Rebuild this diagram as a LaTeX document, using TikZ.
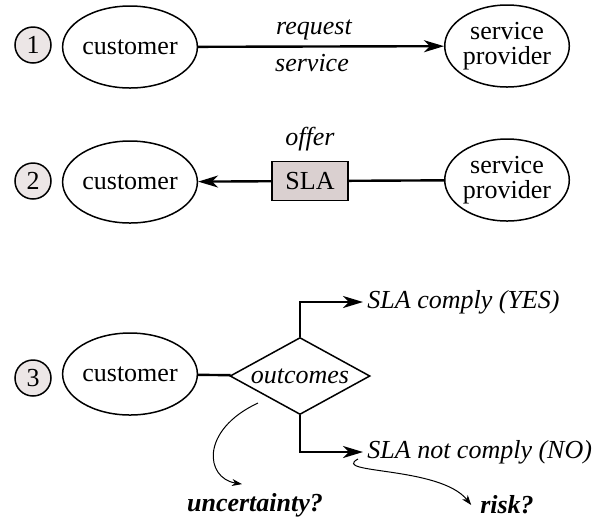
\documentclass[tikz,border=0pt]{standalone}
\usepackage{fontspec}
\setmainfont{Liberation Serif}
\usepackage{tikz}
\usetikzlibrary{shapes.geometric,arrows.meta,positioning}
\definecolor{stepfill}{RGB}{236,230,230}
\definecolor{slafill}{RGB}{218,208,208}

\begin{document}
\fontsize{13}{15}\selectfont
\begin{tikzpicture}[x=0.5pt,y=0.5pt,yscale=-1,xscale=1,
  party/.style={ellipse,draw,line width=0.75pt,minimum width=62pt,minimum height=41pt,inner sep=0pt,align=center},
  twoline/.style={font=\fontsize{13}{12.5}\selectfont},
  stepno/.style={circle,draw,line width=0.75pt,fill=stepfill,minimum size=18pt,inner sep=0pt},
  flow/.style={line width=1.2pt,-{Stealth[length=10pt,width=6pt,inset=3pt]}},
  link/.style={line width=1.2pt},
  hint/.style={line width=0.5pt,-{Stealth[length=5pt,width=3.5pt,inset=1.5pt]}}]
\useasboundingbox (0,0) rectangle (597,521);

% Step Numbers
\node[stepno] (n1) at (33,45) {1};
\node[stepno] (n2) at (33,181) {2};
\node[stepno] (n3) at (33,378) {3};

% Parties
\node[party] (cust1) at (130,47) {customer};
\node[party,twoline] (prov1) at (507,46) {service\\provider};
\node[party] (cust2) at (130,182) {customer};
\node[party,twoline] (prov2) at (507,180) {service\\provider};
\node[party] (cust3) at (130,374) {customer};

% SLA box and decision
\node[draw,fill=slafill,line width=0.75pt,minimum width=38pt,minimum height=19.5pt,inner sep=0pt] (sla) at (310,181) {SLA};
\node[diamond,draw,line width=0.75pt,aspect=1.8,inner sep=0pt,minimum width=70pt,minimum height=38.5pt,font=\itshape] (dec) at (300,376) {outcomes};

% Text Node
\node[font=\itshape] (req) at (314,30) {request};
\node[font=\itshape] (srv) at (312,63) {service};
\node[font=\itshape,inner sep=0pt,above=4.5pt of sla] (offer) {offer};
\node[font=\itshape,anchor=west,inner sep=2pt] (yes) at (363,302) {SLA comply (YES)};
\node[font=\itshape,anchor=west,inner sep=2pt] (no) at (363,452) {SLA not comply (NO)};
\node[font=\bfseries\itshape] (unc) at (255,505) {uncertainty?};
\node[font=\bfseries\itshape] (risk) at (507,505) {risk?};

%Straight Lines
\draw[flow] (cust1) -- (prov1);
\draw[flow] (sla) -- (cust2);
\draw[link] (prov2) -- (sla);
\draw[link] (cust3) -- (dec);
\draw[flow] (dec.north) |- (yes.west);
\draw[flow] (dec.south) |- (no.west);

%Curve Lines
\coordinate (uncfrom) at (258,403);
\coordinate (riskfrom) at (358,459);
\draw[hint] (uncfrom) .. controls (200,430) and (205,478) .. ([xshift=-6.5pt]unc.north);
\draw[hint] (riskfrom) .. controls (330,474) and (440,466) .. (risk.west);

\end{tikzpicture}
\end{document}
